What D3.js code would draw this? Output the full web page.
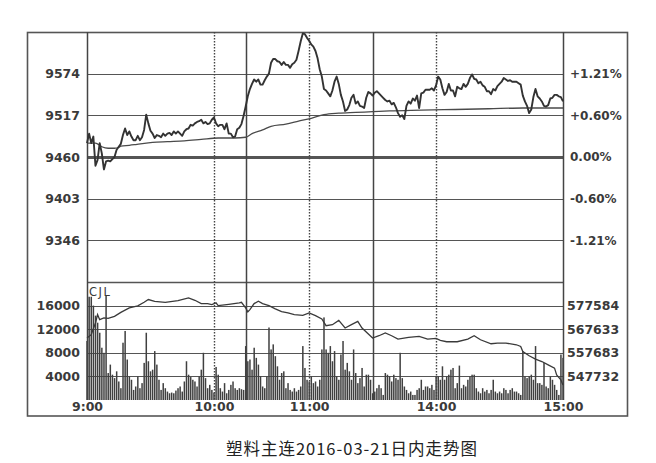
<!DOCTYPE html>
<html><head><meta charset="utf-8">
<script src="https://cdn.jsdelivr.net/npm/d3@7"></script>
<style>
html,body{margin:0;padding:0;background:#fff;}
svg{display:block;}
</style></head>
<body>
<svg id="c" width="656" height="463"></svg>
<script>
// ---- data ----
const priceTicks = [9574, 9517, 9460, 9403, 9346];
const pctLabels = ["+1.21%", "+0.60%", "0.00%", "-0.60%", "-1.21%"];
const volTicks = [16000, 12000, 8000, 4000];
const posTicks = [577584, 567633, 557683, 547732];
const timeLabels = ["9:00", "10:00", "11:00", "14:00", "15:00"];
const timeTickMinutes = [0, 60, 105, 165, 225];
const sessionBreaks = [75, 135];
const dottedMinutes = [60, 105, 165];
const titleText = "塑料主连2016-03-21日内走势图";

// minute-by-minute price (0 = 9:00 ... 225 = 15:00)
const prices = [
9479,9492,9479,9488,9448,9456,9479,9465,9443,9454,
9455,9454,9457,9460,9470,9474,9478,9490,9499,9490,
9495,9488,9483,9483,9489,9483,9487,9497,9518,9506,
9496,9492,9486,9490,9489,9487,9492,9489,9492,9493,
9490,9495,9492,9495,9492,9489,9495,9498,9499,9504,
9503,9506,9508,9509,9511,9506,9508,9505,9506,9511,
9514,9506,9502,9504,9504,9498,9506,9492,9492,9487,
9488,9498,9500,9505,9516,9529,9543,9553,9560,9566,
9563,9566,9559,9559,9565,9570,9574,9589,9594,9594,
9591,9590,9586,9590,9586,9586,9582,9587,9589,9593,
9605,9618,9629,9628,9623,9619,9614,9611,9605,9595,
9580,9570,9553,9551,9547,9543,9551,9563,9570,9560,
9545,9536,9523,9525,9531,9541,9545,9533,9536,9530,
9529,9527,9541,9549,9547,9544,9548,9550,9547,9544,
9541,9538,9536,9537,9532,9534,9528,9520,9515,9517,
9512,9530,9536,9533,9540,9537,9544,9527,9547,9548,
9552,9552,9552,9554,9551,9558,9570,9566,9554,9545,
9549,9560,9551,9551,9543,9556,9554,9553,9560,9556,
9560,9568,9573,9567,9566,9561,9563,9558,9556,9550,
9550,9546,9553,9551,9557,9560,9563,9568,9566,9564,
9565,9563,9563,9563,9561,9559,9544,9536,9530,9520,
9525,9542,9553,9543,9540,9536,9530,9529,9531,9540,
9541,9545,9545,9543,9542,9536
];

// average price line, read at these minutes
const avgMinutes = [0,4,7,10,13,15,16,20,23,31,38,46,54,62,70,75,78,83,87,94,100,106,112,119,127,135,143,158,174,190,206,225];
const avgPrices  = [9479,9479,9474,9472,9472,9473,9475,9476,9477,9480,9481,9482,9484,9486,9486,9487,9492,9497,9502,9505,9509,9513,9518,9520,9521,9522,9523,9524,9525,9526,9527,9527];

// minute-by-minute volume (CJL)
const volumes = [
10000,17500,17500,16000,14300,13100,11400,8860,8000,17700,
4570,6000,4290,3710,4860,3140,2000,9710,11700,6860,
4000,3430,1710,2290,4000,2000,2860,6290,11400,6570,
4860,5140,8290,6000,3430,1710,2860,2000,1430,1140,
1260,1140,1600,2000,2290,1430,3140,6570,4290,3890,
3430,3140,2290,4000,5140,8000,3710,2000,2570,1710,
1260,5600,4290,2000,1430,2860,1140,1710,2570,3140,
2000,1710,2000,1830,1710,9140,6570,6860,5140,8860,
7140,6000,4000,2290,2000,4000,12290,8570,9430,7430,
5710,3430,4570,4860,2000,2860,1710,1430,2000,1430,
1710,2290,9140,5430,3430,3140,4000,2860,3140,2290,
3430,8570,14000,8570,8000,9140,6570,8290,4000,3430,
7710,10000,5140,6290,4860,3430,8570,4570,2860,3710,
5430,2290,4290,4290,3430,1140,1430,2000,2570,2000,
860,4570,4290,4000,3140,4290,3710,3430,8000,3710,
2290,1710,1140,1430,860,860,1710,2000,3430,1710,
2290,2290,2000,2570,1710,4000,4000,3430,5710,3430,
4000,4290,5140,5430,2000,2860,5830,2000,2570,2290,
3430,4000,4290,4290,2000,1430,1140,2000,1430,1710,
1140,1710,3430,1430,1140,1430,1140,2000,1710,1140,
1710,2000,1430,1430,1140,860,8290,4000,3710,4000,
4290,3430,9140,2860,2860,2570,6290,2290,2000,4000,
3430,2570,1710,860,7710,7140
];

// open interest line (right axis of lower panel)
const posMinutes = [0,2,4,5,6,8,10,13,16,20,24,27,29,32,37,43,48,51,54,57,59,61,62,67,72,73,75,76,77,79,81,83,86,89,92,95,98,102,105,108,111,113,116,119,122,125,128,130,133,135,138,141,144,147,152,157,161,165,167,170,175,180,183,186,191,194,198,203,205,206,209,212,215,218,221,222,224,225];
const posValues  = [563908,565305,570259,573773,571656,572376,572207,573054,574747,576610,577457,578981,580124,579405,578981,579701,580844,579828,578431,578431,578007,578727,577584,578135,578727,578981,576610,574917,575890,578431,579405,578431,577584,576187,575044,574493,573773,573477,574493,573350,571953,569116,569539,571360,568142,569539,570937,568142,565602,563908,564882,566025,564882,563485,564204,564585,563485,563739,562892,562342,562342,563485,564882,563188,561495,561771,561771,561071,560352,558235,556414,555017,554001,552603,551206,548369,546252,544135];

// ---- layout ----
const L = 87, R = 563, T = 32, MID = 282, B = 400;
const svg = d3.select("#c");
const ink = "#3a3a3a";
const fontNum = "'DejaVu Sans', Verdana, sans-serif";

const x = d3.scaleLinear().domain([0, 225]).range([L, R]);
const y = d3.scaleLinear().domain([9289, 9631]).range([MID, T]);
const yv = d3.scaleLinear().domain([0, 20000]).range([B, MID]);
const yp = d3.scaleLinear().domain([537781.7, 587534.3]).range([B, MID]);

// outer frame
svg.append("rect").attr("x", 27.5).attr("y", 32.5).attr("width", 600).attr("height", 383.5)
  .attr("fill", "none").attr("stroke", "#555").attr("stroke-width", 1.6);

// horizontal grid
const g = svg.append("g");
priceTicks.forEach(v => {
  g.append("line").attr("x1", L).attr("x2", R).attr("y1", Math.round(y(v)) + 0.5).attr("y2", Math.round(y(v)) + 0.5)
    .attr("stroke", "#555").attr("stroke-width", v === 9460 ? 3 : 1.1);
});
g.append("line").attr("x1", L).attr("x2", R).attr("y1", MID + 0.5).attr("y2", MID + 0.5).attr("stroke", "#555").attr("stroke-width", 1.3);
volTicks.forEach(v => {
  g.append("line").attr("x1", L).attr("x2", R).attr("y1", Math.round(yv(v)) + 0.5).attr("y2", Math.round(yv(v)) + 0.5)
    .attr("stroke", "#555").attr("stroke-width", 1.1);
});

// volume bars
svg.append("g").selectAll("rect").data(volumes).join("rect")
  .attr("x", (d, i) => x(i) - 0.7).attr("width", 1.5)
  .attr("y", d => yv(d)).attr("height", d => B - yv(d))
  .attr("fill", "#404040");

// vertical lines
dottedMinutes.forEach(m => {
  svg.append("line").attr("x1", Math.round(x(m)) + 0.5).attr("x2", Math.round(x(m)) + 0.5).attr("y1", T).attr("y2", B)
    .attr("stroke", "#444").attr("stroke-width", 1.4).attr("stroke-dasharray", "1.5,1.5");
});
sessionBreaks.forEach(m => {
  svg.append("line").attr("x1", Math.round(x(m)) + 0.5).attr("x2", Math.round(x(m)) + 0.5).attr("y1", T).attr("y2", B)
    .attr("stroke", "#444").attr("stroke-width", 1.5);
});
[L, R].forEach(px => {
  svg.append("line").attr("x1", px + 0.5).attr("x2", px + 0.5).attr("y1", T).attr("y2", B)
    .attr("stroke", "#444").attr("stroke-width", 1.5);
});

// lines
const avgData = avgMinutes.map((m, i) => [m, avgPrices[i]]);
svg.append("path").datum(avgData)
  .attr("d", d3.line().x(d => x(d[0])).y(d => y(d[1])).curve(d3.curveMonotoneX))
  .attr("fill", "none").attr("stroke", "#4a4a4a").attr("stroke-width", 1.3);

svg.append("path").datum(prices)
  .attr("d", d3.line().x((d, i) => x(i)).y(d => y(d)))
  .attr("fill", "none").attr("stroke", "#333").attr("stroke-width", 1.9).attr("stroke-linejoin", "round");

const posData = posMinutes.map((m, i) => [m, posValues[i]]);
svg.append("path").datum(posData)
  .attr("d", d3.line().x(d => x(d[0])).y(d => yp(d[1])))
  .attr("fill", "none").attr("stroke", "#3a3a3a").attr("stroke-width", 1.3);

// axes (labels)
function styleAxis(sel, size) {
  sel.select(".domain").remove();
  sel.selectAll("line").remove();
  sel.selectAll("text").attr("fill", ink).attr("font-family", fontNum)
    .attr("font-weight", "bold").attr("font-size", size);
}
svg.append("g").attr("transform", `translate(${L},0)`)
  .call(d3.axisLeft(y).tickValues(priceTicks).tickSize(0).tickPadding(7).tickFormat(d3.format("d")))
  .call(s => styleAxis(s, 12.5));
svg.append("g").attr("transform", `translate(${R},0)`)
  .call(d3.axisRight(y).tickValues(priceTicks).tickSize(0).tickPadding(7).tickFormat((d, i) => pctLabels[i]))
  .call(s => styleAxis(s, 12));
svg.append("g").attr("transform", `translate(${L},0)`)
  .call(d3.axisLeft(yv).tickValues(volTicks).tickSize(0).tickPadding(7).tickFormat(d3.format("d")))
  .call(s => styleAxis(s, 12.5));
svg.append("g").attr("transform", `translate(${R},0)`)
  .call(d3.axisRight(yp).tickValues(posTicks).tickSize(0).tickPadding(4).tickFormat(d3.format("d")))
  .call(s => styleAxis(s, 12.5));
svg.append("g").attr("transform", `translate(0,${B})`)
  .call(d3.axisBottom(x).tickValues(timeTickMinutes).tickSize(0).tickPadding(2).tickFormat((d, i) => timeLabels[i]))
  .call(s => styleAxis(s, 12.5));

// CJL label
svg.append("text").attr("x", 89).attr("y", 295.5).text("CJL")
  .attr("font-family", fontNum).attr("font-size", 11.5).attr("letter-spacing", 1.5).attr("fill", ink);

// title
svg.append("text").attr("x", 352).attr("y", 455).attr("text-anchor", "middle").text(titleText)
  .attr("font-family", "'Noto Sans CJK SC', sans-serif").attr("font-size", 16.5).attr("letter-spacing", 1)
  .attr("fill", "#222");
</script>
</body></html>
